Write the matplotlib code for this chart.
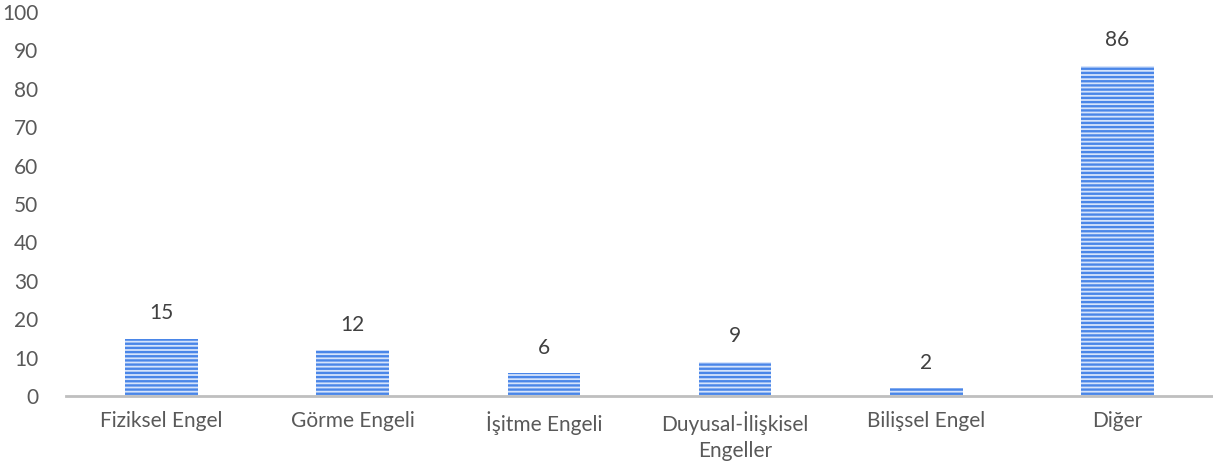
import matplotlib.pyplot as plt

# datos del gráfico
kategoriler = ['Fiziksel Engel', 'Görme Engeli', 'İşitme Engeli',
               'Duyusal-İlişkisel\nEngeller', 'Bilişsel Engel', 'Diğer']
degerler = [15, 12, 6, 9, 2, 86]

plt.rcParams['font.family'] = ['Lato', 'DejaVu Sans']
plt.rcParams['hatch.linewidth'] = 1.7

fig = plt.figure(figsize=(12.13, 4.75), dpi=100)
ax = fig.add_axes([0.0544, 0.166, 0.9456, 0.809])

x = range(len(kategoriler))
bars = ax.bar(x, degerler, width=0.38, color='#d6e4fb', edgecolor='#4a86e8',
              linewidth=0, hatch='----')

# etiquetas de valor
for xi, v in zip(x, degerler):
    ax.annotate(str(v), (xi, v), xytext=(0, 11), textcoords='offset points',
                ha='center', va='bottom', fontsize=15, color='#404040')

ax.set_xlim(-0.5, len(kategoriler) - 0.5)
ax.set_ylim(0, 100)
ax.set_yticks(range(0, 101, 10))
ax.set_xticks(list(x))
ax.set_xticklabels(kategoriler, linespacing=1.35, multialignment='center')
ax.tick_params(axis='both', length=0, labelsize=15, labelcolor='#595959')
ax.tick_params(axis='x', pad=11)
ax.tick_params(axis='y', pad=20)

for s in ['top', 'right', 'left']:
    ax.spines[s].set_visible(False)
ax.spines['bottom'].set_color('#bfbfbf')
ax.spines['bottom'].set_linewidth(2)

plt.savefig('out.png', dpi=100)
